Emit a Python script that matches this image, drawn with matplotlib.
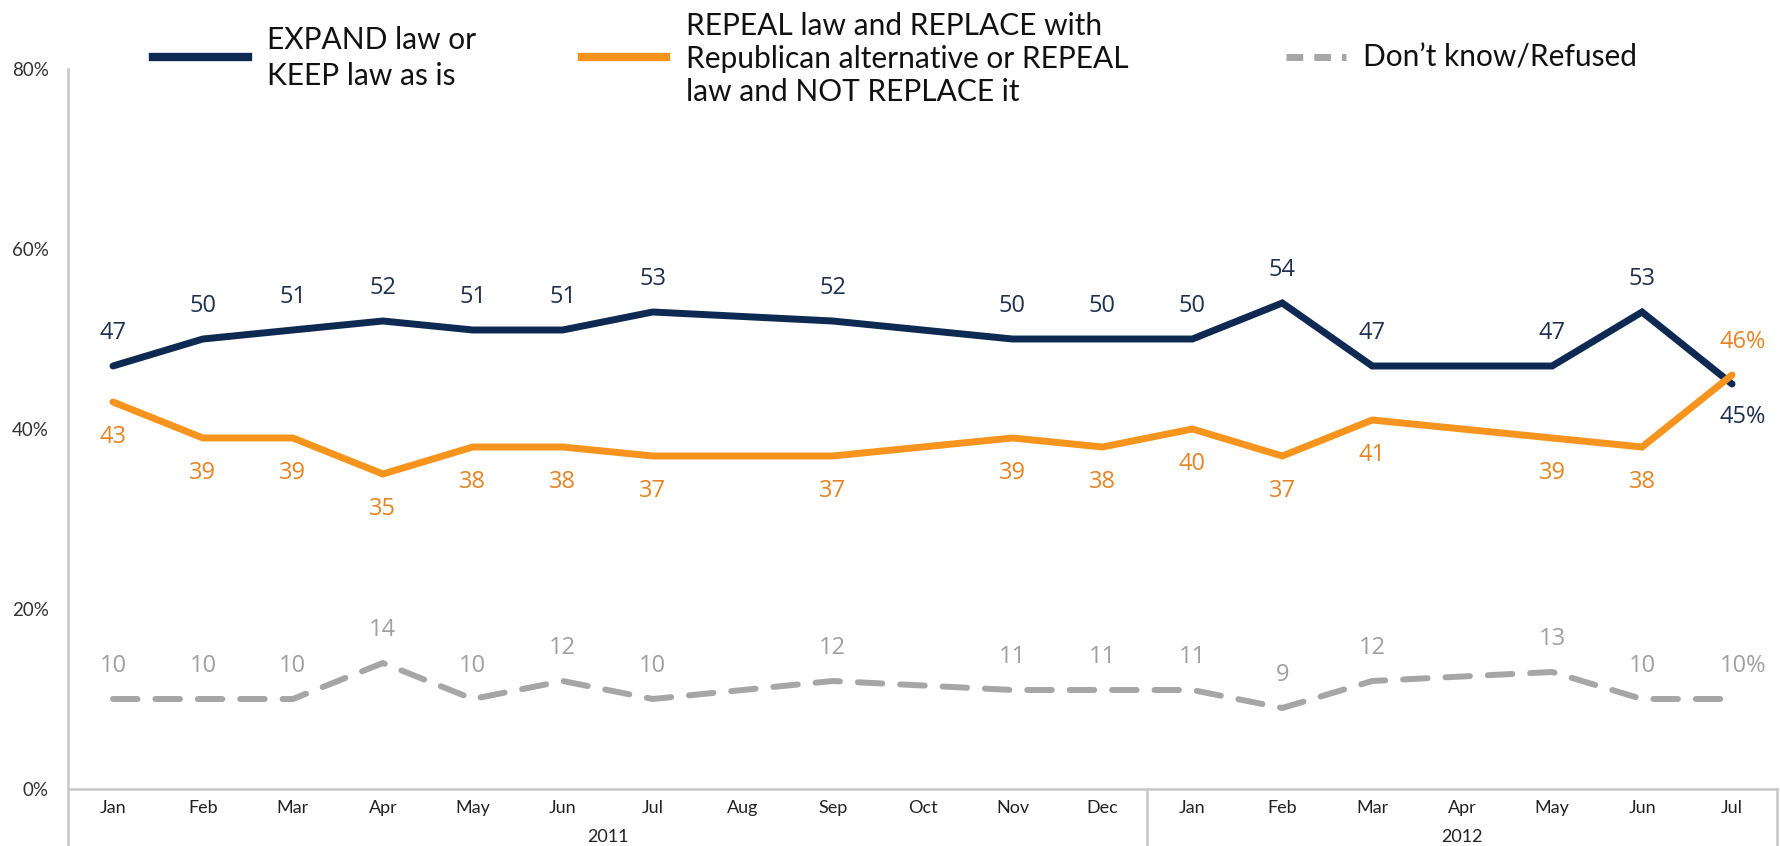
import matplotlib.pyplot as plt
from matplotlib.lines import Line2D
from matplotlib.transforms import blended_transform_factory

months = ["Jan", "Feb", "Mar", "Apr", "May", "Jun", "Jul", "Aug", "Sep", "Oct",
          "Nov", "Dec", "Jan", "Feb", "Mar", "Apr", "May", "Jun", "Jul"]
years = ["2011", "2012"]
year_spans = [(0, 11), (12, 18)]

# None = no poll that month, the line just runs across
keep = [47, 50, 51, 52, 51, 51, 53, None, 52, None, 50, 50, 50, 54, 47, None, 47, 53, 45]
repeal = [43, 39, 39, 35, 38, 38, 37, None, 37, None, 39, 38, 40, 37, 41, None, 39, 38, 46]
dont_know = [10, 10, 10, 14, 10, 12, 10, None, 12, None, 11, 11, 11, 9, 12, None, 13, 10, 10]

NAVY = "#0e2a52"
ORANGE = "#f7941d"
GRAY = "#a6a6a6"
NAVY_TXT = "#1f3050"
ORANGE_TXT = "#e58424"
GRAY_TXT = "#a0a0a0"
AXIS = "#c8c8c8"

TEXT_FONT = ["Lato", "DejaVu Sans"]
LABEL_FONT = ["Open Sans", "DejaVu Sans"]

W, H = 1781, 846
fig = plt.figure(figsize=(W / 100, H / 100), dpi=100)
ax = fig.add_axes([68 / W, (H - 789) / H, (1777 - 68) / W, (789 - 69) / H])


def pts(values):
    xs = [i for i, v in enumerate(values) if v is not None]
    return xs, [values[i] for i in xs]


dash = (0, (4.1, 3.0))
x, y = pts(dont_know)
ax.plot(x, y, color=GRAY, lw=4.3, ls=dash, dash_capstyle="round", zorder=2)
x, y = pts(keep)
ax.plot(x, y, color=NAVY, lw=5, solid_capstyle="round", solid_joinstyle="miter", zorder=3)
x, y = pts(repeal)
ax.plot(x, y, color=ORANGE, lw=5, solid_capstyle="round", solid_joinstyle="miter", zorder=4)

last = len(months) - 1


def label(values, color, dy, last_dy):
    for i, v in enumerate(values):
        if v is None:
            continue
        if i == last:
            ax.annotate(f"{v}%", (i, v), xytext=(8, last_dy), textcoords="offset points",
                        ha="center", va="center", color=color, fontsize=17,
                        family=LABEL_FONT, zorder=5)
        else:
            ax.annotate(str(v), (i, v), xytext=(0, dy), textcoords="offset points",
                        ha="center", va="center", color=color, fontsize=17,
                        family=LABEL_FONT, zorder=5)


label(keep, NAVY_TXT, 24, -24)
label(repeal, ORANGE_TXT, -25, 24)
label(dont_know, GRAY_TXT, 24, 24)

ax.set_xlim(-0.5, len(months) - 0.5)
ax.set_ylim(0, 80)
ax.set_yticks([0, 20, 40, 60, 80])
ax.set_yticklabels([f"{t}%" for t in [0, 20, 40, 60, 80]], family=TEXT_FONT,
                   fontsize=13.5, color="#333333")
ax.set_xticks(range(len(months)))
ax.set_xticklabels(months, family=TEXT_FONT, fontsize=13, color="#222222")
ax.tick_params(axis="y", length=0, pad=14)
ax.tick_params(axis="x", length=0, pad=8)

for side in ["top", "right"]:
    ax.spines[side].set_visible(False)
ax.spines["left"].set_color(AXIS)
ax.spines["bottom"].set_color(AXIS)
ax.spines["left"].set_linewidth(1.8)
ax.spines["bottom"].set_linewidth(1.8)

# category boxes under the axis
trans = blended_transform_factory(ax.transData, ax.transAxes)
bottom = -(H - 789) / (789 - 69)
for xv in [-0.5, 11.5, len(months) - 0.5]:
    ax.add_line(Line2D([xv, xv], [bottom, 0], transform=trans, color=AXIS,
                       lw=1.8, clip_on=False))
for yr, (a, b) in zip(years, year_spans):
    ax.text((a + b) / 2, -48 / 720, yr, transform=trans, ha="center", va="center",
            family=TEXT_FONT, fontsize=13, color="#222222")

# legend drawn by hand across the top
def fx(px):
    return px / W


def fy(px):
    return 1 - px / H


fig.add_artist(Line2D([fx(153), fx(248)], [fy(57), fy(57)], color=NAVY, lw=6,
                      transform=fig.transFigure))
fig.text(fx(267), fy(58), "EXPAND law or\nKEEP law as is", ha="left", va="center",
         family=TEXT_FONT, fontsize=21.5, color="#111111", linespacing=1.35)

fig.add_artist(Line2D([fx(582), fx(666)], [fy(57), fy(57)], color=ORANGE, lw=6,
                      transform=fig.transFigure))
fig.text(fx(686), fy(59), "REPEAL law and REPLACE with\nRepublican alternative or REPEAL\n"
         "law and NOT REPLACE it", ha="left", va="center", family=TEXT_FONT, fontsize=21.5,
         color="#111111", linespacing=1.22)

fig.add_artist(Line2D([fx(1286), fx(1346)], [fy(57), fy(57)], color=GRAY, lw=5,
                      ls=(0, (2.4, 1.6)), dash_capstyle="butt", transform=fig.transFigure))
fig.text(fx(1363), fy(57), "Don\u2019t know/Refused", ha="left", va="center",
         family=TEXT_FONT, fontsize=21.5, color="#111111")

fig.savefig("out.png", dpi=100)
